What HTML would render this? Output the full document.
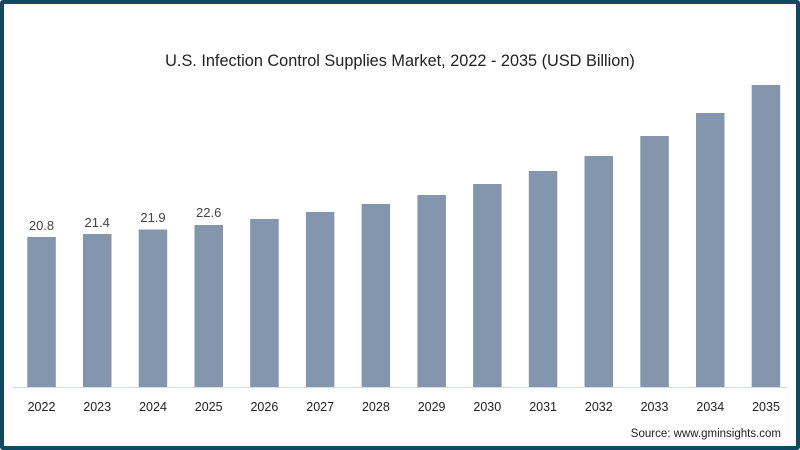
<!DOCTYPE html>
<html><head><style>
body{margin:0}
.f{width:800px;height:450px;box-sizing:border-box;border:4px solid #0e4a62;border-radius:3px;background:#fff;position:relative;font-family:"Liberation Sans",sans-serif;overflow:hidden}
</style></head><body>
<div class="f">
<svg width="792" height="442" viewBox="4 4 792 442" style="position:absolute;left:0;top:0">
<text x="400" y="66" text-anchor="middle" font-size="16.3" fill="#222">U.S. Infection Control Supplies Market, 2022 - 2035 (USD Billion)</text>
<line x1="13" y1="387.5" x2="787" y2="387.5" stroke="#d6dbe3" stroke-width="1"/>
<g fill="#8396ae">
<rect x="27.3" y="237" width="28.5" height="150"/>
<rect x="83" y="234" width="28.5" height="153"/>
<rect x="138.7" y="229.5" width="28.5" height="157.5"/>
<rect x="194.5" y="225" width="28.5" height="162"/>
<rect x="250.2" y="219" width="28.5" height="168"/>
<rect x="305.9" y="212" width="28.5" height="175"/>
<rect x="361.6" y="204" width="28.5" height="183"/>
<rect x="417.4" y="195" width="28.5" height="192"/>
<rect x="473.1" y="184" width="28.5" height="203"/>
<rect x="528.8" y="171" width="28.5" height="216"/>
<rect x="584.5" y="156" width="28.5" height="231"/>
<rect x="640.3" y="136" width="28.5" height="251"/>
<rect x="696" y="113" width="28.5" height="274"/>
<rect x="751.7" y="85" width="28.5" height="302"/>
</g>
<g font-size="13" fill="#444" text-anchor="middle">
<text x="41.5" y="230">20.8</text>
<text x="97.2" y="227">21.4</text>
<text x="153" y="222">21.9</text>
<text x="208.7" y="217">22.6</text>
</g>
<g font-size="12.5" fill="#222" text-anchor="middle">
<text x="41.5" y="411">2022</text><text x="97.2" y="411">2023</text><text x="153" y="411">2024</text><text x="208.7" y="411">2025</text><text x="264.4" y="411">2026</text><text x="320.2" y="411">2027</text><text x="375.9" y="411">2028</text><text x="431.6" y="411">2029</text><text x="487.3" y="411">2030</text><text x="543.1" y="411">2031</text><text x="598.8" y="411">2032</text><text x="654.5" y="411">2033</text><text x="710.3" y="411">2034</text><text x="766" y="411">2035</text>
</g>
<text x="781" y="437" text-anchor="end" font-size="11.5" fill="#222">Source: www.gminsights.com</text>
</svg>
</div>
</body></html>
